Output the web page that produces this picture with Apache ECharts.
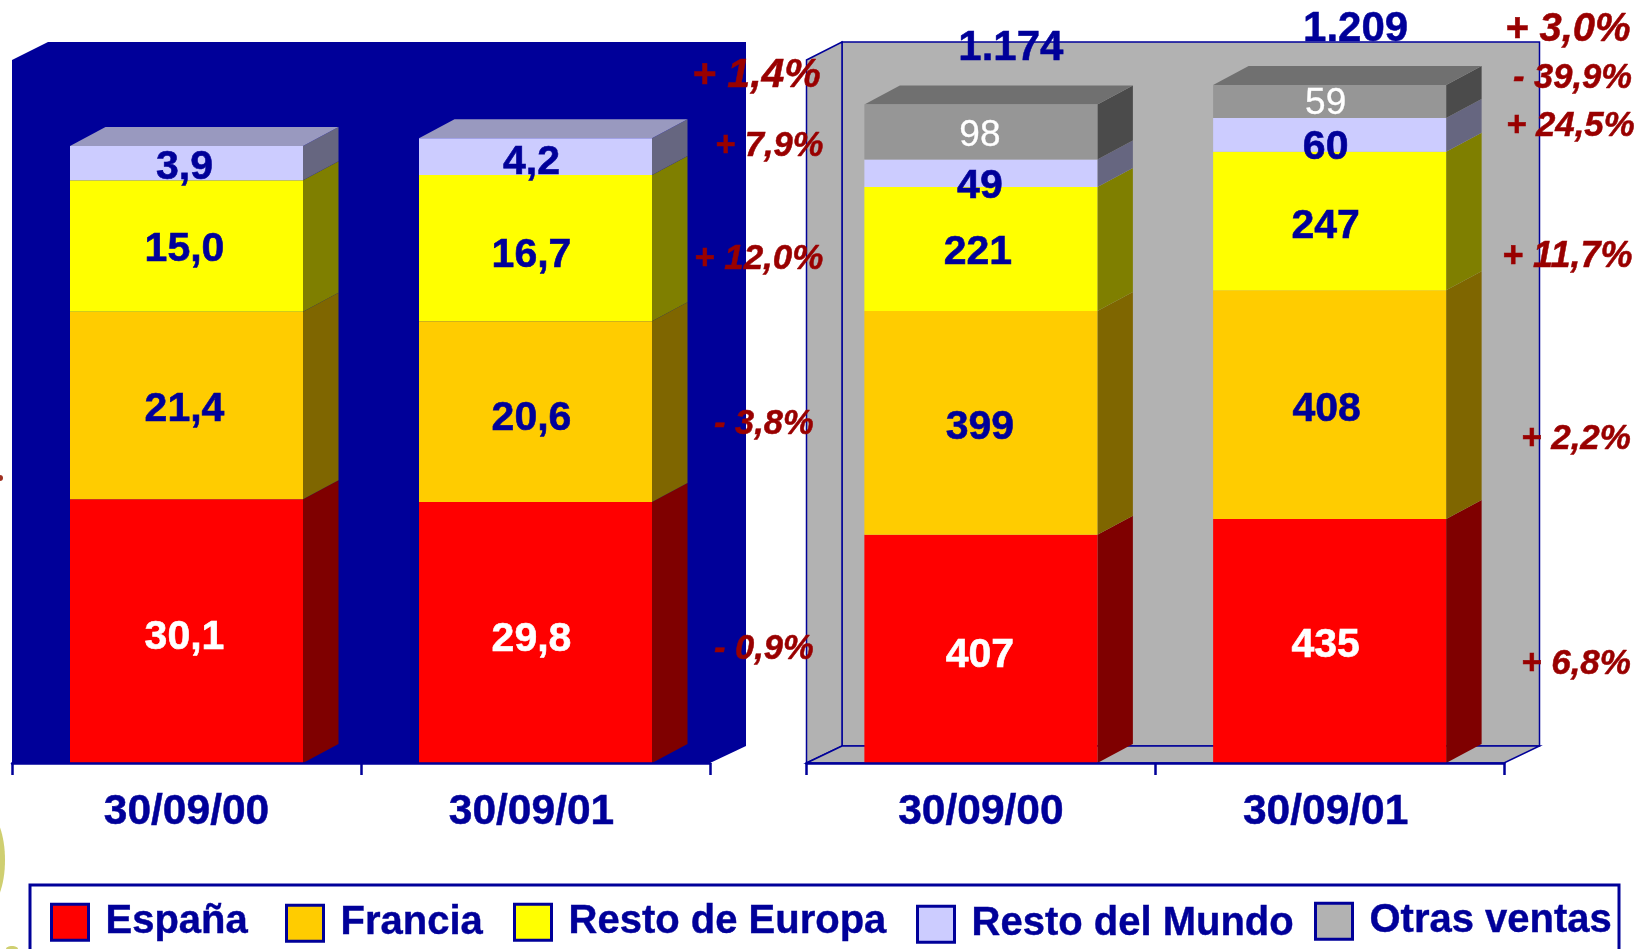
<!DOCTYPE html>
<html>
<head>
<meta charset="utf-8">
<style>html,body{margin:0;padding:0;background:#fff}#c{width:1648px;height:949px}</style>
<script src="https://cdn.jsdelivr.net/npm/echarts@6/dist/echarts.min.js"></script>
</head>
<body>
<div id="c"></div>
<script>
const categories = ['30/09/00', '30/09/01'];
const seriesNames = ['España', 'Francia', 'Resto de Europa', 'Resto del Mundo', 'Otras ventas'];

const leftEspana = [30.1, 29.8];
const leftFrancia = [21.4, 20.6];
const leftEuropa = [15.0, 16.7];
const leftMundo = [3.9, 4.2];

const rightEspana = [407, 435];
const rightFrancia = [399, 408];
const rightEuropa = [221, 247];
const rightMundo = [49, 60];
const rightOtras = [98, 59];

const leftChanges = ['+ 1,4%', '+ 7,9%', '+ 12,0%', '- 3,8%', '- 0,9%'];
const rightChanges = ['+ 3,0%', '- 39,9%', '+ 24,5%', '+ 11,7%', '+ 2,2%', '+ 6,8%'];

// ---- styling / layout (separate from the data) ----
const NAVY = '#000099', DARKRED = '#990000';
const front = ['#FF0000', '#FFCC00', '#FFFF00', '#CCCCFF', '#969696'];
const side = ['#7F0000', '#7F6600', '#7F7F00', '#666680', '#4B4B4B'];
const top3d = ['#BF0000', '#BF9900', '#BFBF00', '#9999BF', '#707070'];
const FONT = '"Liberation Sans", Arial, sans-serif';
const BAR_W = 233, DX = 35.5, DY = 19;
const leftGrid = { left: 12, top: 62, width: 698, height: 701 };
const rightGrid = { left: 806.5, top: 62, width: 697.5, height: 701 };
const leftNudge = [
  [[-2, 7], [-4, 7]], [[-2, 4], [-4, 7]], [[-2, 4], [-4, 7]], [[-2, 4], [-4, 6]]
];
const rightNudge = [
  [[-1, 7], [-4, 5]], [[-1, 5], [-3, 5]], [[-3, 4], [-4, 6]], [[-1, 13], [-4, 13]], [[-1, 4], [-4, 2]]
];
const totalNudge = [[30, -56], [26, -56]];

const fmtLeft = v => v.toFixed(1).replace('.', ',');
const fmtRight = v => String(v);
const fmtTotal = v => String(v).replace(/(\d)(\d{3})$/, '$1.$2');

function wallLeft(params, api) {
  const c = params.coordSys;
  const dx = 36, dy = 17;
  return {
    type: 'polygon',
    shape: { points: [
      [c.x, c.y - 2], [c.x + dx, c.y - 2 - dy - 1], [c.x + c.width + dx, c.y - 2 - dy - 1],
      [c.x + c.width + dx, c.y + c.height - dy], [c.x + c.width, c.y + c.height], [c.x, c.y + c.height]
    ] },
    style: { fill: NAVY }
  };
}
function wallRight(params, api) {
  const c = params.coordSys;
  const dx = 35.5, dy = 17;
  const l = c.x, r = c.x + c.width, t = c.y - 2, b = c.y + c.height;
  const st = { fill: '#B2B2B2', stroke: NAVY, lineWidth: 1.5 };
  return {
    type: 'group',
    children: [
      { type: 'polygon', shape: { points: [[l + dx, t - dy - 1], [r + dx, t - dy - 1], [r + dx, b - dy], [l + dx, b - dy]] }, style: st },
      { type: 'polygon', shape: { points: [[l, t], [l + dx, t - dy - 1], [l + dx, b - dy], [l, b]] }, style: st },
      { type: 'polygon', shape: { points: [[l, b], [l + dx, b - dy], [r + dx, b - dy], [r, b]] }, style: st }
    ]
  };
}

function box3d(colorIdx, isTop) {
  return function (params, api) {
    const cat = api.value(0);
    const p0 = api.coord([cat, api.value(1)]);
    const p1 = api.coord([cat, api.value(2)]);
    const xr = p0[0] + BAR_W / 2, xl = p0[0] - BAR_W / 2;
    const kids = [{
      type: 'polygon',
      shape: { points: [[xr, p0[1]], [xr + DX, p0[1] - DY], [xr + DX, p1[1] - DY], [xr, p1[1]]] },
      style: { fill: side[colorIdx] }
    }];
    if (isTop) kids.push({
      type: 'polygon',
      shape: { points: [[xl, p1[1]], [xl + DX, p1[1] - DY], [xr + DX, p1[1] - DY], [xr, p1[1]]] },
      style: { fill: top3d[colorIdx] }
    });
    return { type: 'group', children: kids };
  };
}

function panel(axisIdx, layers, fmt, nudges, extraLabel) {
  const out = [];
  const base = categories.map(() => 0);
  layers.forEach((vals, i) => {
    const lab = (extraLabel && extraLabel(i)) || {};
    const col = i === 0 ? '#FFFFFF' : NAVY;
    out.push({
      type: 'bar', name: seriesNames[i], xAxisIndex: axisIdx, yAxisIndex: axisIdx,
      stack: 'p' + axisIdx, barWidth: BAR_W, z: 3,
      itemStyle: { color: front[i] },
      data: vals.map((v, k) => ({
        value: v,
        label: { show: true, position: 'inside', offset: nudges[i][k], formatter: fmt(v),
          color: col, textBorderColor: col, textBorderWidth: 0.6,
          fontFamily: FONT, fontWeight: 'bold', fontSize: 41, ...lab }
      }))
    });
    const rows = vals.map((v, k) => { const r = [k, base[k], base[k] + v]; base[k] += v; return r; });
    out.push({
      type: 'custom', xAxisIndex: axisIdx, yAxisIndex: axisIdx, z: 2, silent: true,
      renderItem: box3d(i, i === layers.length - 1),
      encode: { x: 0, y: [1, 2] }, data: rows
    });
  });
  return out;
}

const leftLayers = [leftEspana, leftFrancia, leftEuropa, leftMundo];
const rightLayers = [rightEspana, rightFrancia, rightEuropa, rightMundo, rightOtras];
const rightTotals = categories.map((_, k) => rightLayers.reduce((s, a) => s + a[k], 0));

function xAxisFor(idx) {
  return {
    type: 'category', gridIndex: idx, z: 5,
    data: categories.map((c, i) => ({ value: c, textStyle: { padding: i === 1 ? [0, 8, 0, 0] : 0 } })),
    axisLine: { show: true, lineStyle: { color: NAVY, width: 2.5 } },
    axisTick: { show: true, length: 12, lineStyle: { color: NAVY, width: 2.5 } },
    axisLabel: { color: NAVY, fontFamily: FONT, fontWeight: 'bold', fontSize: 42.5, margin: 28, interval: 0,
      textBorderColor: NAVY, textBorderWidth: 0.5 }
  };
}

function legendItem(i, left, top) {
  const d = { name: seriesNames[i] };
  if (i === 4) d.itemStyle = { color: '#B2B2B2' };
  return {
    data: [d], orient: 'horizontal', left, top, padding: 0, selectedMode: false,
    icon: 'rect', itemWidth: 37, itemHeight: 36,
    itemStyle: { borderColor: NAVY, borderWidth: 3 },
    textStyle: { color: NAVY, fontFamily: FONT, fontWeight: 'bold', fontSize: 40, padding: [2, 0, 0, 12],
      textBorderColor: NAVY, textBorderWidth: 0.4 }
  };
}

const redLabels = [
  [leftChanges[0], 692, 76, 41], [leftChanges[1], 715, 146, 34.5], [leftChanges[2], 694, 259, 35],
  [leftChanges[3], 714, 424, 34.5], [leftChanges[4], 714, 649, 34.5],
  [rightChanges[0], 1505, 30, 40], [rightChanges[1], 1513, 78, 34.5], [rightChanges[2], 1506, 126, 34.8],
  [rightChanges[3], 1502, 257, 36], [rightChanges[4], 1521, 439, 35], [rightChanges[5], 1521, 664, 35]
];

const chart = echarts.init(document.getElementById('c'), null, { renderer: 'canvas' });
chart.setOption({
  animation: false,
  backgroundColor: '#FFFFFF',
  tooltip: { show: false },
  grid: [leftGrid, rightGrid],
  xAxis: [xAxisFor(0), xAxisFor(1)],
  yAxis: [
    { type: 'value', gridIndex: 0, min: 0, max: 80, show: false },
    { type: 'value', gridIndex: 1, min: 0, max: 1250, show: false }
  ],
  legend: [
    legendItem(0, 50, 902), legendItem(1, 285, 903), legendItem(2, 513, 902),
    legendItem(3, 916, 904), legendItem(4, 1314, 901)
  ],
  series: [
    { type: 'custom', xAxisIndex: 0, yAxisIndex: 0, z: 0, silent: true, renderItem: wallLeft, data: [[0, 0]] },
    { type: 'custom', xAxisIndex: 1, yAxisIndex: 1, z: 0, silent: true, renderItem: wallRight, data: [[0, 0]] },
    ...panel(0, leftLayers, fmtLeft, leftNudge),
    ...panel(1, rightLayers, fmtRight, rightNudge, i => i === 4 ? {
      color: '#FFFFFF', fontWeight: 'normal', fontSize: 37, textBorderColor: '#FFFFFF', textBorderWidth: 0.3
    } : null),
    {
      type: 'custom', xAxisIndex: 1, yAxisIndex: 1, z: 20, silent: true,
      encode: { x: 0, y: 1 },
      data: rightTotals.map((v, k) => [k, v]),
      renderItem: function (params, api) {
        const k = api.value(0), p = api.coord([k, api.value(1)]);
        return { type: 'text', x: p[0] + totalNudge[k][0], y: p[1] + totalNudge[k][1], z2: 50,
          style: { text: fmtTotal(api.value(1)), fill: NAVY, stroke: NAVY, lineWidth: 0.5,
            textAlign: 'center', textVerticalAlign: 'middle', font: 'bold 42px ' + FONT } };
      }
    }
  ],
  graphic: { elements: [
    { type: 'ellipse', shape: { cx: -14, cy: 860, rx: 19, ry: 48 }, style: { fill: '#CFCF70' }, z: 1, silent: true },
    { type: 'circle', shape: { cx: 0, cy: 478, r: 3 }, style: { fill: '#A03020' }, z: 1, silent: true },
    { type: 'ellipse', shape: { cx: 12, cy: 949, rx: 6, ry: 3 }, style: { fill: '#CFCF70' }, z: 1, silent: true },
    { type: 'rect', shape: { x: 30, y: 885, width: 1589, height: 80 }, style: { fill: '#FFFFFF', stroke: NAVY, lineWidth: 3 }, z: -1, silent: true },
    ...redLabels.map(l => ({
      type: 'text', x: l[1], y: l[2], z: 100, silent: true,
      style: { text: l[0], fill: DARKRED, stroke: DARKRED, lineWidth: 0.5, textAlign: 'left', textVerticalAlign: 'middle',
        font: 'italic bold ' + l[3] + 'px ' + FONT }
    }))
  ] }
});
</script>
</body>
</html>
